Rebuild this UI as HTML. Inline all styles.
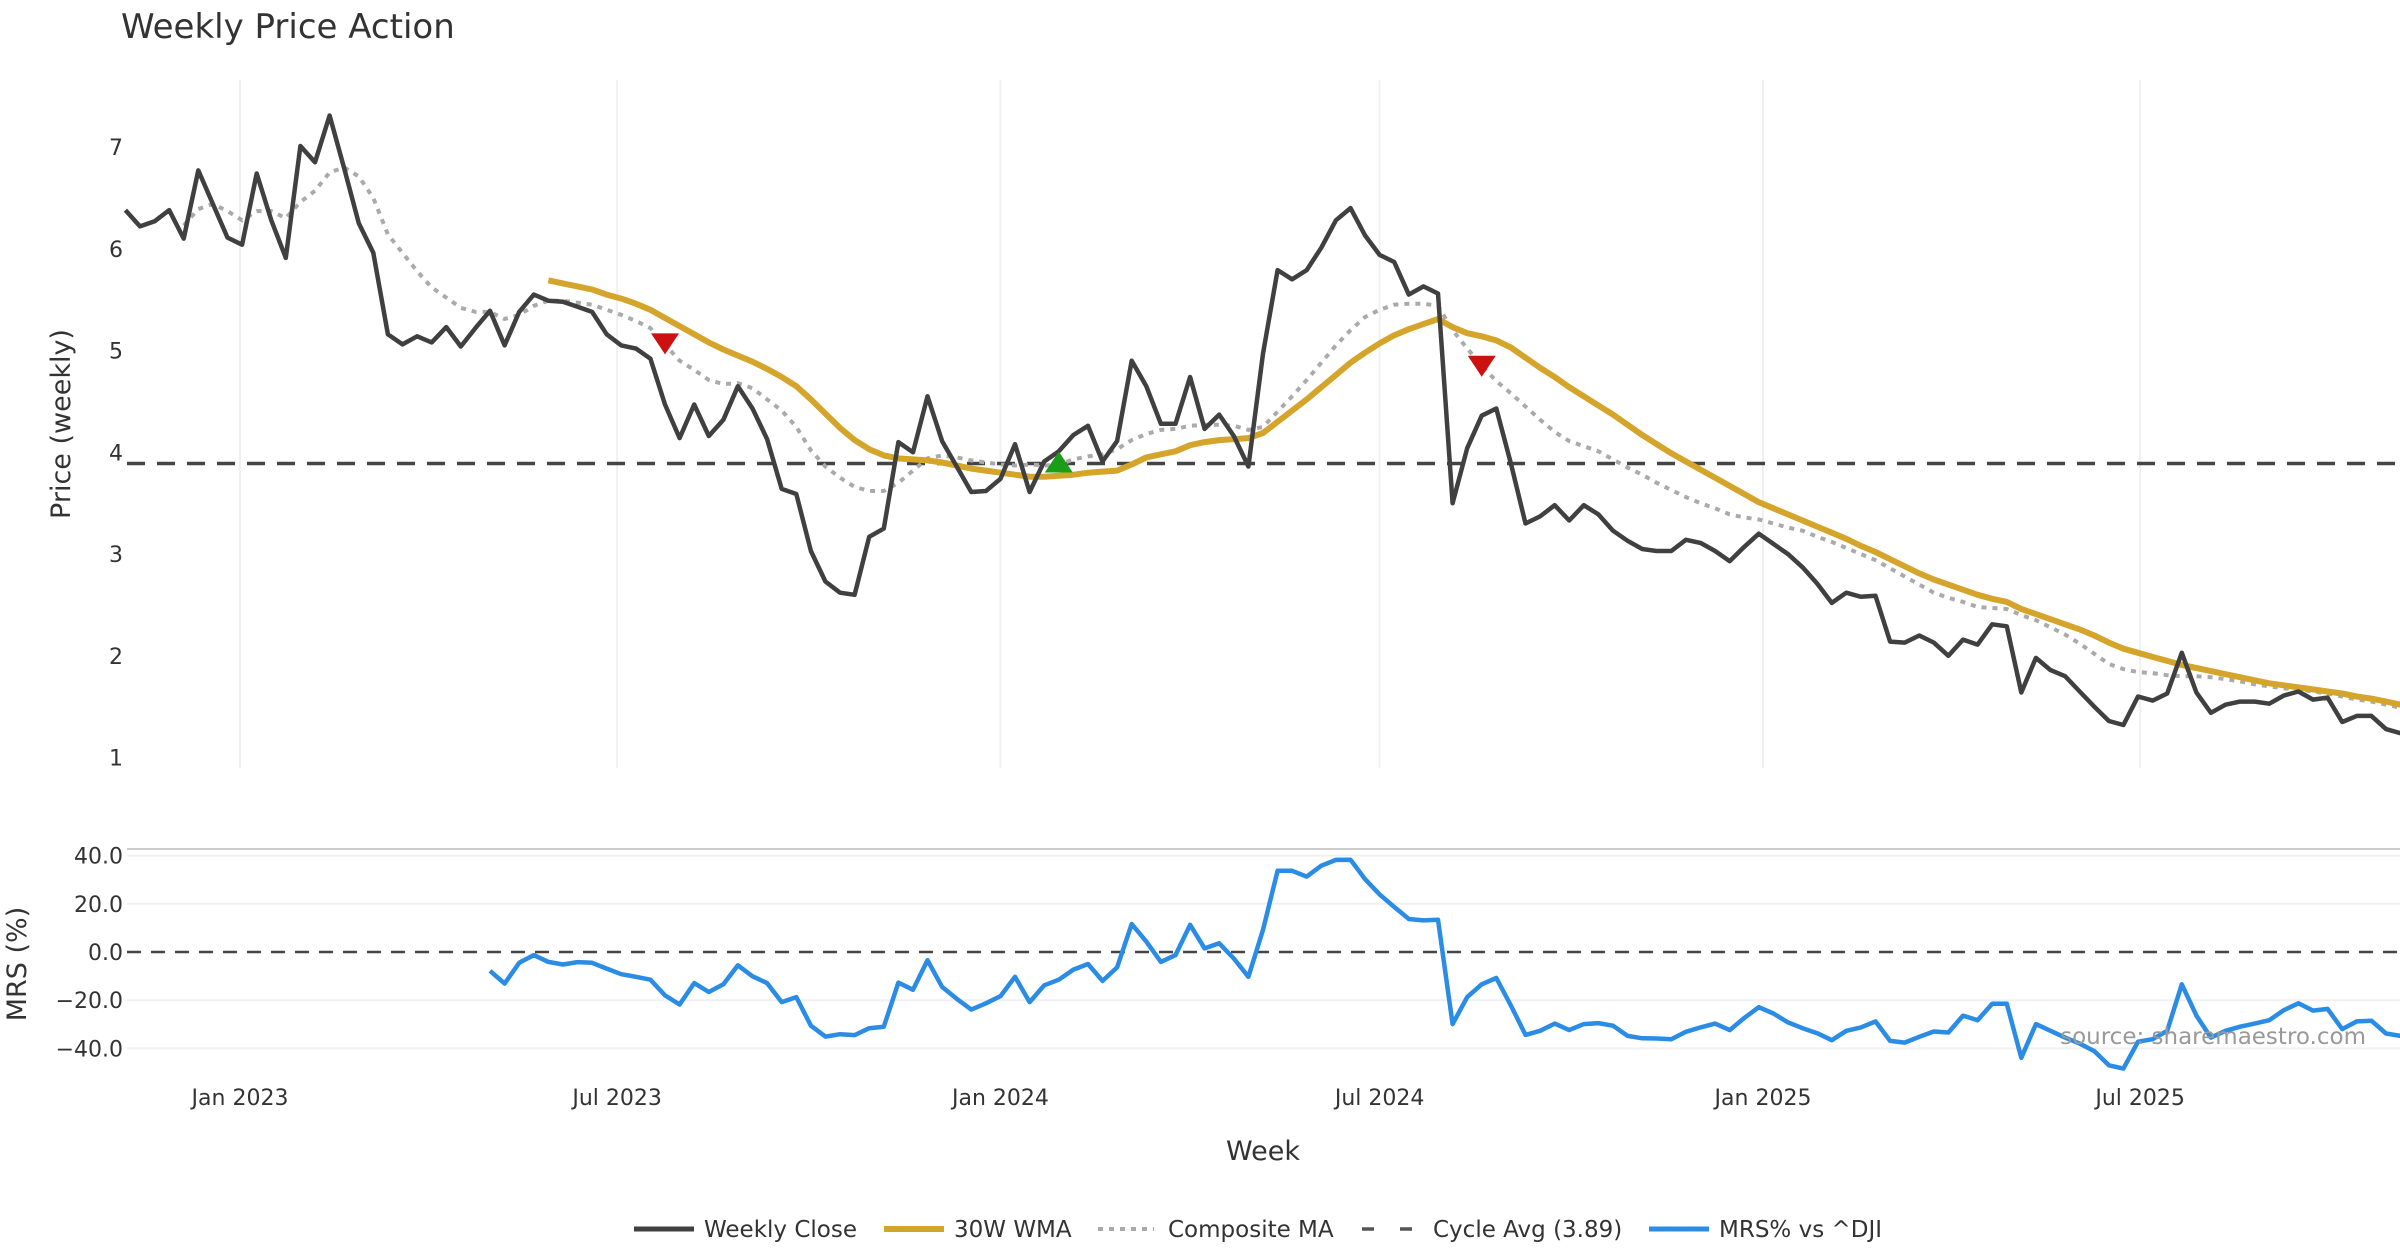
<!DOCTYPE html>
<html><head><meta charset="utf-8">
<style>
html,body{margin:0;padding:0;background:#fff;}
svg{display:block;font-family:"DejaVu Sans","Liberation Sans",sans-serif;}
</style></head>
<body>
<svg id="chart" width="2400" height="1260" viewBox="0 0 2400 1260" xmlns="http://www.w3.org/2000/svg">
<rect width="2400" height="1260" fill="#fff"/>
<text x="121" y="38" font-size="34" fill="#333">Weekly Price Action</text>
<g id="grid"></g>
<g id="axes"></g>
<g id="series"></g>
<text transform="translate(70,424) rotate(-90)" text-anchor="middle" font-size="27" fill="#333">Price (weekly)</text>
<text transform="translate(26,964) rotate(-90)" text-anchor="middle" font-size="27" fill="#333">MRS (%)</text>
<text x="1263" y="1160" text-anchor="middle" font-size="27" fill="#333">Week</text>
<text x="2366" y="1044" text-anchor="end" font-size="23" fill="#999">source: sharemaestro.com</text>
<g id="legend">
  <line x1="634" y1="1229" x2="694" y2="1229" stroke="#404040" stroke-width="5"/>
  <text x="704" y="1237" font-size="23" fill="#333">Weekly Close</text>
  <line x1="884" y1="1229" x2="944" y2="1229" stroke="#d4a52a" stroke-width="6"/>
  <text x="954" y="1237" font-size="23" fill="#333">30W WMA</text>
  <line x1="1098" y1="1229" x2="1154" y2="1229" stroke="#aaa" stroke-width="4" stroke-dasharray="5 6"/>
  <text x="1168" y="1237" font-size="23" fill="#333">Composite MA</text>
  <line x1="1362" y1="1229" x2="1420" y2="1229" stroke="#555" stroke-width="3.5" stroke-dasharray="12 26"/>
  <text x="1433" y="1237" font-size="23" fill="#333">Cycle Avg (3.89)</text>
  <line x1="1649" y1="1229" x2="1709" y2="1229" stroke="#2b8ce6" stroke-width="5"/>
  <text x="1719" y="1237" font-size="23" fill="#333">MRS% vs ^DJI</text>
</g>
</svg>
<script>
const close = [6.38,6.22,6.27,6.38,6.10,6.77,6.44,6.11,6.04,6.74,6.28,5.91,7.01,6.85,7.31,6.79,6.25,5.96,5.16,5.06,5.14,5.08,5.23,5.04,5.22,5.39,5.05,5.38,5.55,5.49,5.48,5.43,5.38,5.16,5.05,5.02,4.92,4.47,4.14,4.47,4.16,4.32,4.65,4.43,4.13,3.64,3.59,3.03,2.73,2.62,2.60,3.17,3.25,4.10,4.00,4.55,4.11,3.86,3.61,3.62,3.74,4.08,3.61,3.91,4.01,4.17,4.26,3.91,4.11,4.90,4.65,4.28,4.28,4.74,4.23,4.37,4.16,3.86,4.97,5.79,5.70,5.79,6.01,6.28,6.40,6.13,5.94,5.87,5.55,5.63,5.56,3.50,4.04,4.36,4.43,3.89,3.30,3.37,3.48,3.33,3.48,3.39,3.23,3.13,3.05,3.03,3.03,3.14,3.11,3.03,2.93,3.07,3.20,3.10,3.00,2.87,2.71,2.52,2.62,2.58,2.59,2.14,2.13,2.20,2.13,2.00,2.16,2.11,2.31,2.29,1.64,1.98,1.86,1.80,1.65,1.50,1.36,1.32,1.60,1.56,1.63,2.03,1.64,1.44,1.52,1.55,1.55,1.53,1.61,1.65,1.57,1.59,1.35,1.41,1.41,1.28,1.24];
const wmaStart = 29;
const wma = [5.69,5.66,5.63,5.60,5.55,5.51,5.46,5.40,5.32,5.24,5.16,5.08,5.01,4.95,4.89,4.82,4.74,4.65,4.52,4.38,4.24,4.12,4.03,3.97,3.94,3.93,3.92,3.90,3.87,3.84,3.82,3.80,3.78,3.76,3.76,3.77,3.78,3.80,3.81,3.82,3.88,3.95,3.98,4.01,4.07,4.10,4.12,4.13,4.14,4.19,4.30,4.41,4.52,4.64,4.76,4.88,4.98,5.07,5.15,5.21,5.26,5.31,5.23,5.17,5.14,5.10,5.03,4.93,4.83,4.74,4.64,4.55,4.46,4.37,4.27,4.17,4.08,3.99,3.91,3.83,3.75,3.67,3.59,3.51,3.45,3.39,3.33,3.27,3.21,3.15,3.08,3.02,2.95,2.88,2.81,2.75,2.70,2.65,2.60,2.56,2.53,2.46,2.41,2.36,2.31,2.26,2.20,2.13,2.07,2.03,1.99,1.95,1.91,1.88,1.85,1.82,1.79,1.76,1.73,1.71,1.69,1.67,1.65,1.63,1.60,1.58,1.55,1.52];
const compStart = 4;
const composite = [6.23,6.39,6.44,6.37,6.28,6.37,6.37,6.30,6.46,6.57,6.75,6.80,6.71,6.50,6.14,5.96,5.78,5.62,5.52,5.42,5.38,5.38,5.31,5.35,5.44,5.49,5.49,5.47,5.45,5.40,5.35,5.29,5.22,5.06,4.90,4.81,4.71,4.67,4.68,4.63,4.52,4.41,4.25,4.02,3.86,3.75,3.66,3.62,3.62,3.70,3.82,3.94,3.97,3.95,3.92,3.90,3.88,3.87,3.88,3.87,3.88,3.93,3.96,3.98,4.03,4.12,4.18,4.22,4.23,4.26,4.27,4.27,4.26,4.22,4.25,4.40,4.55,4.71,4.88,5.05,5.20,5.33,5.40,5.45,5.46,5.46,5.44,5.20,5.02,4.85,4.70,4.58,4.45,4.32,4.20,4.11,4.06,4.01,3.93,3.85,3.78,3.70,3.63,3.56,3.50,3.45,3.39,3.36,3.34,3.30,3.26,3.23,3.17,3.12,3.06,3.00,2.94,2.86,2.78,2.70,2.62,2.57,2.53,2.48,2.47,2.46,2.40,2.35,2.28,2.21,2.12,2.02,1.92,1.87,1.84,1.83,1.81,1.80,1.80,1.79,1.77,1.75,1.72,1.70,1.68,1.67,1.65,1.63,1.60,1.57,1.55,1.52,1.49];
const mrsStart = 25;
const mrs = [-7.8,-13.1,-4.5,-1.3,-4.1,-5.2,-4.2,-4.5,-6.9,-9.2,-10.3,-11.5,-18,-21.8,-12.9,-16.6,-13.4,-5.5,-10.1,-12.9,-20.8,-18.7,-30.6,-35.1,-34.1,-34.5,-31.6,-31,-12.7,-15.7,-3.4,-14.5,-19.4,-23.9,-21.3,-18.3,-10.3,-20.8,-13.8,-11.5,-7.3,-5.0,-12,-6.4,11.6,4.3,-4.1,-1.3,11.3,1.5,3.6,-2.7,-10.3,9.2,33.7,33.7,31.3,35.8,38.2,38.3,30.2,23.9,18.7,13.7,13.1,13.4,-29.9,-18.7,-13.4,-10.8,-22.2,-34.4,-32.7,-29.7,-32.4,-29.9,-29.5,-30.6,-34.8,-35.8,-35.9,-36.2,-33.1,-31.3,-29.7,-32.4,-27.4,-22.9,-25.5,-29.2,-31.6,-33.7,-36.6,-32.7,-31.3,-28.8,-36.9,-37.6,-35.2,-33.0,-33.4,-26.4,-28.3,-21.5,-21.5,-43.9,-29.9,-32.7,-35.5,-38,-41.1,-47,-48.4,-37.2,-36.2,-32.7,-13.4,-26.4,-35.5,-32.7,-31,-29.7,-28.3,-24.1,-21.3,-24.3,-23.6,-32,-28.8,-28.5,-33.8,-34.8];
const cycleAvg = 3.89;
const sellWeeks = [37, 93];
const sellPrices = [5.08, 4.86];
const buyWeeks = [64];
const buyPrices = [3.89];
const priceTicks = [1,2,3,4,5,6,7];
const mrsTicks = [40,20,0,-20,-40];
const xTickLabels = ["Jan 2023","Jul 2023","Jan 2024","Jul 2024","Jan 2025","Jul 2025"];
const xTickDates = ["2023-01-01","2023-07-01","2024-01-01","2024-07-01","2025-01-01","2025-07-01"];
const startDate = "2022-11-07";

const NS = "http://www.w3.org/2000/svg";
const DAY = 86400000;
const t0 = Date.parse(startDate);
const pxPerDay = 1523/731;
const xRef = Date.parse("2023-01-01");
function xDate(ms){ return 240 + (ms - xRef)/DAY*pxPerDay; }
function xWeek(i){ return xDate(t0 + i*7*DAY); }
function yPrice(v){ return 757.6 - (v-1)*(757.6-147)/6; }
function yMrs(v){ return 952 - v*(952-855.6)/40; }
function el(tag, attrs, parent){ const e=document.createElementNS(NS,tag); for(const k in attrs) e.setAttribute(k,attrs[k]); parent.appendChild(e); return e; }
const grid=document.getElementById('grid'), axes=document.getElementById('axes'), series=document.getElementById('series');

xTickDates.forEach((d,k)=>{
  const x=xDate(Date.parse(d));
  const g=el('line',{x1:x,y1:80,x2:x,y2:768,stroke:'#eef0f3','stroke-width':2},grid);
  
  
  const t=el('text',{x:x,y:1105,'text-anchor':'middle','font-size':22,fill:'#333'},axes);
  t.textContent=xTickLabels[k];
  
  
});
priceTicks.forEach(v=>{
  const t=el('text',{x:123,y:yPrice(v)+8,'text-anchor':'end','font-size':22,fill:'#333'},axes);
  t.textContent=String(v);
  
  
});
const border=el('line',{x1:127,y1:849,x2:2400,y2:849,stroke:'#ccc','stroke-width':2},grid);


mrsTicks.forEach(v=>{
  const y=yMrs(v);
  if(v!==0){
    const g=el('line',{x1:127,y1:y,x2:2400,y2:y,stroke:'#eef0f3','stroke-width':2},grid);
    
    
  }
  const t=el('text',{x:123,y:y+8,'text-anchor':'end','font-size':22,fill:'#333'},axes);
  t.textContent=(v<0?'\u2212'+Math.abs(v).toFixed(1):v.toFixed(1));
  
  
});
const zl=el('line',{x1:127,y1:yMrs(0),x2:2400,y2:yMrs(0),stroke:'#444','stroke-width':2.5,'stroke-dasharray':'14 10'},series);



function pts(arr,start,yf){ return arr.map((v,i)=>xWeek(start+i).toFixed(1)+','+yf(v).toFixed(1)).join(' '); }

const cyc=el('line',{x1:127,y1:yPrice(cycleAvg),x2:2400,y2:yPrice(cycleAvg),stroke:'#444','stroke-width':3.5,'stroke-dasharray':'18 12'},series);



const comp=el('polyline',{points:pts(composite,compStart,yPrice),fill:'none',stroke:'#aaa','stroke-width':4,'stroke-dasharray':'5 6'},series);


const w=el('polyline',{points:pts(wma,wmaStart,yPrice),fill:'none',stroke:'#d4a52a','stroke-width':6,'stroke-linejoin':'round'},series);


const c=el('polyline',{points:pts(close,0,yPrice),fill:'none',stroke:'#404040','stroke-width':4.5,'stroke-linejoin':'round'},series);


const m=el('polyline',{points:pts(mrs,mrsStart,yMrs),fill:'none',stroke:'#2b8ce6','stroke-width':4.5,'stroke-linejoin':'round'},series);



sellWeeks.forEach((wk,k)=>{
  const x=xWeek(wk), y=yPrice(sellPrices[k]);
  const p=el('polygon',{points:`${x-14},${y-9} ${x+14},${y-9} ${x},${y+12}`,fill:'#cc1111'},series);
  
  
});
buyWeeks.forEach((wk,k)=>{
  const x=xWeek(wk), y=yPrice(buyPrices[k]);
  const p=el('polygon',{points:`${x-14},${y+9} ${x+14},${y+9} ${x},${y-12}`,fill:'#1a9e1a'},series);
  
  
});
</script>
</body></html>
